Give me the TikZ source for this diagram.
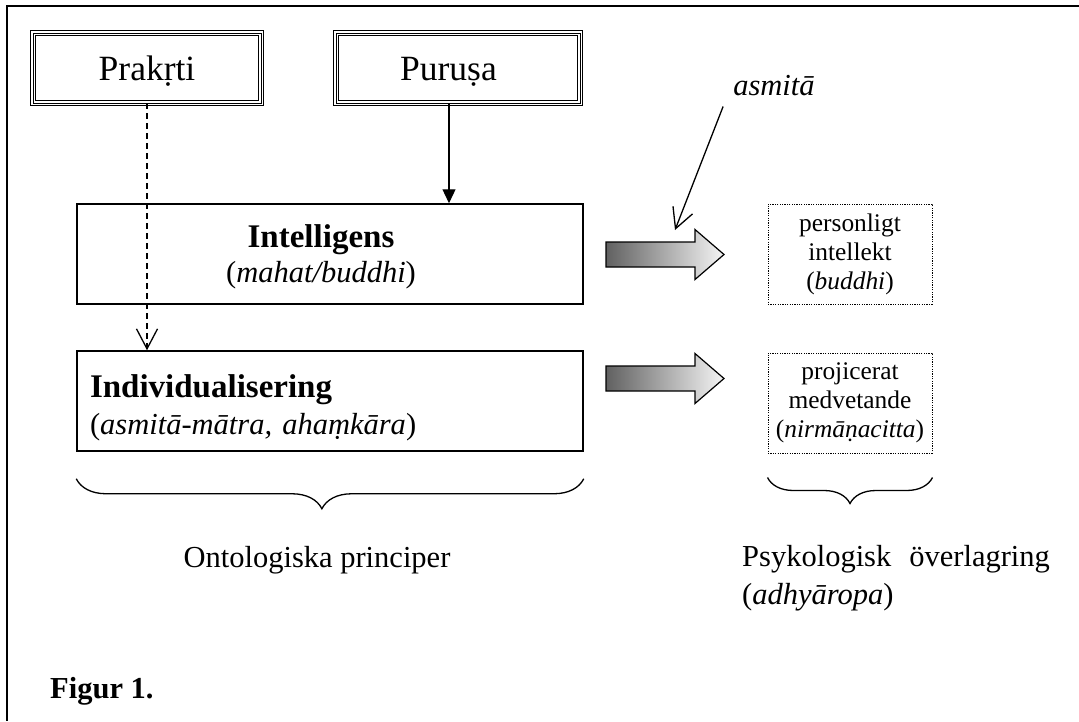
\documentclass[tikz,border=0pt]{standalone}
\usepackage{fontspec}
\setmainfont{Liberation Serif}
\usetikzlibrary{arrows.meta,decorations.pathreplacing}
\begin{document}
\begin{tikzpicture}[x=1pt,y=-1pt,
topbox/.style={draw,line width=1.6pt,double distance=3.2pt,outer sep=0pt,inner sep=0pt,minimum height=70pt,text height=24pt,text depth=0pt,font=\fontsize{35.5}{40}\selectfont},
box/.style={draw,line width=1.5pt,inner sep=0pt,minimum width=506pt,minimum height=100pt,font=\fontsize{30.5}{35}\selectfont},
dotbox/.style={draw,line width=1pt,dash pattern=on 1.2pt off 1.2pt,inner sep=0pt,minimum width=164pt,minimum height=100pt,align=center,font=\fontsize{25.4}{29}\selectfont},
conn/.style={line width=1.3pt},
vtip/.style={-{Straight Barb[length=20pt,width=21pt,line width=1.3pt]}},
brc/.style={decorate,decoration={brace,mirror,amplitude=#1},line width=1.3pt},
txt/.style={inner sep=0pt,font=\fontsize{30.5}{38}\selectfont}]
\useasboundingbox(0,0)rectangle(1079,721);
\draw[line width=2pt](1079,6)--(7,6)--(7,721);
\node[topbox,minimum width=228pt](prakrti)at(147,68){Prakṛti};
\node[topbox,minimum width=244pt](purusa)at(458,68){\hspace*{-19pt}Puruṣa};
\foreach \n in{prakrti,purusa}
\draw[line width=0.8pt](\n.south west)rectangle(\n.north east);
\node[box,align=center](intel)at(330,254){\hspace*{-18pt}\rule{0pt}{29pt}{\fontsize{33}{35}\selectfont\bfseries Intelligens}\\\hspace*{-18pt}(\textit{mahat/buddhi})};
\node[box,text width=480pt,inner xsep=13pt,align=left,font=\fontsize{30.5}{37}\selectfont](indiv)at(330,401){\rule{0pt}{35.6pt}{\fontsize{33}{37}\selectfont\bfseries Individualisering}\\(\textit{asmitā-mātra, ahaṃkāra})};
\draw[conn,-{Triangle[length=14pt,width=13pt]}]([xshift=-9pt]purusa.south)--([xshift=-9pt]purusa.south|-intel.north);
\draw[conn,dash pattern=on 6pt off 4pt,vtip](prakrti.south)--(prakrti.south|-indiv.north);
\foreach \y in{254.5,378.5}
\draw[line width=1.2pt,left color=black!62,right color=black!4](606,\y-12.5)--(695,\y-12.5)--(695,\y-25)--(724,\y)--(695,\y+25)--(695,\y+12.5)--(606,\y+12.5)--cycle;
\node[dotbox](pers)at(850,254){personligt\\intellekt\\(\textit{buddhi})};
\node[dotbox](proj)at(850,403){projicerat\\medvetande\\(\textit{nirmāṇacitta})};
\node[txt,inner sep=10pt,font=\fontsize{30.5}{35}\selectfont\itshape](asmita)at(774,86){asmitā};
\coordinate(asmitatip)at(675,230);
\draw[conn,vtip](asmita.south west)--(asmitatip);
\draw[brc=30pt,decoration={aspect=0.484}]([yshift=-27pt]indiv.south west)--([yshift=-27pt]indiv.south east);
\draw[brc=26pt]([yshift=-24pt]proj.south west)--([yshift=-24pt]proj.south east);
\node[txt](onto)at(317,560){Ontologiska principer};
\node[txt,anchor=north west,align=left](psyk)at(742,545){Psykologisk\hspace{18pt}överlagring\\(\textit{adhyāropa})};
\node[txt,anchor=base west,font=\fontsize{30.5}{35}\selectfont\bfseries](figur)at(50,698){Figur 1.};
\end{tikzpicture}
\end{document}
